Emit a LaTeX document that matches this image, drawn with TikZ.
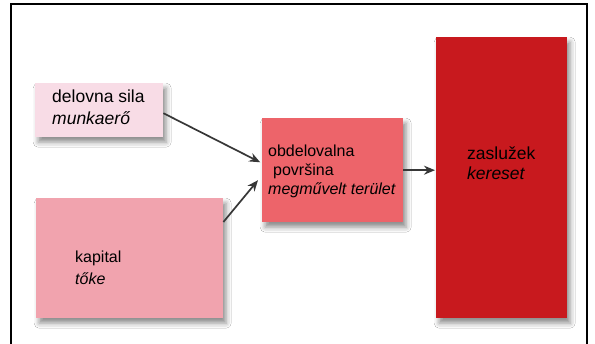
\documentclass[tikz,border=0pt]{standalone}
\usepackage{fontspec}
\setmainfont{Liberation Sans}
\usetikzlibrary{shadows.blur,arrows.meta}
\definecolor{cDel}{RGB}{248,220,230}
\definecolor{cKap}{RGB}{241,163,174}
\definecolor{cObd}{RGB}{237,100,106}
\definecolor{cZas}{RGB}{200,25,30}
\definecolor{cArr}{RGB}{55,55,55}
\begin{document}
\begin{tikzpicture}[x=1pt,y=-1pt,
 box/.style={anchor=north west, inner sep=0pt, draw=none,
   blur shadow={shadow xshift=3pt,shadow yshift=-5pt,shadow blur radius=5pt,shadow opacity=45}},
 lbl/.style={anchor=base west, inner sep=0pt, font=\fontsize{16}{19}\selectfont},
 lblbig/.style={lbl, font=\fontsize{17.5}{20}\selectfont},
 arr/.style={draw=cArr, line width=1.7pt, -{Stealth[length=11pt,width=9pt]}}]
\useasboundingbox (0,0) rectangle (595,344);
\fill[white] (0,0) rectangle (595,344);
\draw[line width=1.1pt] (11,344) -- (11,4) -- (587,4) -- (587,344);

\node[box, fill=cDel, minimum width=128pt, minimum height=54pt] (del) at (35,83) {};
\node[box, fill=cKap, minimum width=187pt, minimum height=120pt] (kap) at (36,198) {};
\node[box, fill=cObd, minimum width=141pt, minimum height=104pt] (obd) at (262,118) {};
\node[box, fill=cZas, minimum width=131pt, minimum height=281pt] (zas) at (436,37) {};

\node[lblbig] (del1) at (52,103) {delovna sila};
\node[lblbig] (del2) at (52,125) {\itshape munkaerő};
\node[lbl] (obd1) at (268,157) {obdelovalna};
\node[lbl] (obd2) at (273,176) {površina};
\node[lbl] (obd3) at (268,195) {\itshape megművelt terület};
\node[lbl] (kap1) at (75,263) {kapital};
\node[lbl] (kap2) at (75,285) {\itshape tőke};
\node[lblbig] (zas1) at (467,160) {zaslužek};
\node[lblbig] (zas2) at (467,180) {\itshape kereset};

\draw[arr, shorten >=2pt] ([yshift=-3pt]del.east) -- ([yshift=7pt]obd.west);
\draw[arr] ([yshift=-24pt]kap.north east) -- ([xshift=-4pt,yshift=-10pt]obd.west);
\draw[arr, shorten >=1pt] (obd.east) -- (zas.west |- obd.east);
\end{tikzpicture}
\end{document}
